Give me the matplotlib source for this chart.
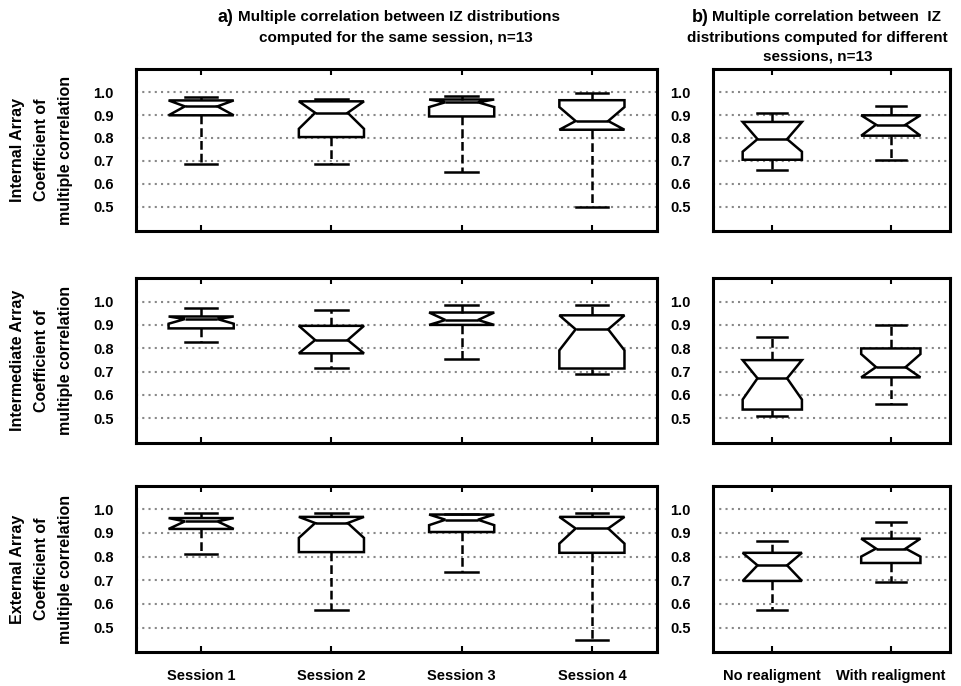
import matplotlib.pyplot as plt

plt.rcParams['font.family'] = ['Liberation Sans', 'DejaVu Sans']
plt.rcParams['font.weight'] = 'bold'

# --- categories ---
sesiones = ['Session 1', 'Session 2', 'Session 3', 'Session 4']
realineado = ['No realigment', 'With realigment']
filas = ['Internal Array', 'Intermediate Array', 'External Array']

# --- a) same session: one list per statistic, one row per array ---
a_med = [[0.938, 0.910, 0.956, 0.874],
         [0.925, 0.835, 0.921, 0.881],
         [0.949, 0.942, 0.956, 0.919]]
a_q1 = [[0.899, 0.804, 0.894, 0.836],
        [0.885, 0.778, 0.900, 0.713],
        [0.917, 0.819, 0.904, 0.816]]
a_q3 = [[0.964, 0.960, 0.968, 0.965],
        [0.936, 0.896, 0.953, 0.941],
        [0.963, 0.968, 0.978, 0.968]]
a_cilo = [[0.899, 0.840, 0.935, 0.836],
          [0.905, 0.778, 0.900, 0.791],
          [0.917, 0.879, 0.933, 0.855]]
a_cihi = [[0.964, 0.960, 0.968, 0.935],
          [0.936, 0.896, 0.953, 0.941],
          [0.963, 0.968, 0.978, 0.968]]
a_lo = [[0.688, 0.688, 0.650, 0.500],
        [0.828, 0.714, 0.753, 0.691],
        [0.812, 0.574, 0.736, 0.448]]
a_hi = [[0.978, 0.970, 0.985, 0.995],
        [0.973, 0.962, 0.986, 0.986],
        [0.985, 0.985, 0.982, 0.985]]

# --- b) different sessions ---
b_med = [[0.795, 0.858], [0.671, 0.719], [0.763, 0.834]]
b_q1 = [[0.705, 0.810], [0.537, 0.675], [0.697, 0.773]]
b_q3 = [[0.870, 0.899], [0.749, 0.799], [0.816, 0.876]]
b_cilo = [[0.740, 0.810], [0.580, 0.675], [0.697, 0.800]]
b_cihi = [[0.870, 0.899], [0.749, 0.775], [0.816, 0.876]]
b_lo = [[0.658, 0.702], [0.511, 0.560], [0.576, 0.692]]
b_hi = [[0.910, 0.940], [0.849, 0.900], [0.867, 0.945]]

yticks = [0.5, 0.6, 0.7, 0.8, 0.9, 1.0]


def stats_list(med, q1, q3, cilo, cihi, lo, hi):
    return [dict(med=m, q1=a, q3=b, cilo=c, cihi=d, whislo=l, whishi=h, fliers=[])
            for m, a, b, c, d, l, h in zip(med, q1, q3, cilo, cihi, lo, hi)]


def dibujar(ax, stats, etiquetas, con_etiquetas):
    n = len(stats)
    pos = list(range(1, n + 1))
    ax.bxp(stats, positions=pos, widths=0.5, shownotches=True, showfliers=False,
           patch_artist=True,
           boxprops=dict(facecolor='white', edgecolor='black', linewidth=1.8),
           medianprops=dict(color='black', linewidth=1.8),
           whiskerprops=dict(color='black', linewidth=1.8, linestyle=(0, (3.5, 1.6))),
           capprops=dict(color='black', linewidth=1.8))
    ax.set_xlim(0.5, n + 0.5)
    ax.set_ylim(0.395, 1.1)
    ax.set_yticks(yticks)
    ax.set_yticklabels([f'{v:.1f}' for v in yticks], fontsize=10.5, fontweight='bold')
    ax.tick_params(axis='y', length=0, pad=16)
    ax.set_xticks(pos)
    if con_etiquetas:
        ax.set_xticklabels(etiquetas, fontsize=10.5, fontweight='bold')
    else:
        ax.set_xticklabels([])
    ax.tick_params(axis='x', direction='in', top=True, length=4, width=1.5, pad=12)
    ax.yaxis.grid(True, linestyle=(0, (1, 2)), color='#888888', linewidth=1.5)
    ax.set_axisbelow(True)
    for s in ax.spines.values():
        s.set_linewidth(2.2)


fig = plt.figure(figsize=(9.62, 6.86), dpi=100)

# axes rectangles [left, bottom, width, height] per row
fila_y = [(0.6637, 0.2353), (0.3547, 0.2397), (0.0491, 0.2429)]

for i, nombre in enumerate(filas):
    y0, h = fila_y[i]
    ax_a = fig.add_axes([0.1414, y0, 0.5416, h])
    ax_b = fig.add_axes([0.7412, y0, 0.2464, h])
    dibujar(ax_a, stats_list(a_med[i], a_q1[i], a_q3[i], a_cilo[i], a_cihi[i], a_lo[i], a_hi[i]),
            sesiones, i == 2)
    dibujar(ax_b, stats_list(b_med[i], b_q1[i], b_q3[i], b_cilo[i], b_cihi[i], b_lo[i], b_hi[i]),
            realineado, i == 2)
    fig.text(0.0435, y0 + h / 2, nombre + '\nCoefficient of\nmultiple correlation',
             rotation=90, ha='center', va='center', fontsize=11.5, fontweight='bold',
             linespacing=1.75)

# panel titles
fig.text(0.2266, 0.975, 'a)', ha='left', va='center', fontsize=13, fontweight='bold')
fig.text(0.2475, 0.975, 'Multiple correlation between IZ distributions',
         ha='left', va='center', fontsize=11, fontweight='bold')
fig.text(0.411, 0.945, 'computed for the same session, n=13',
         ha='center', va='center', fontsize=11, fontweight='bold')

fig.text(0.7195, 0.975, 'b)', ha='left', va='center', fontsize=13, fontweight='bold')
fig.text(0.740, 0.975, 'Multiple correlation between  IZ',
         ha='left', va='center', fontsize=11, fontweight='bold')
fig.text(0.850, 0.945, 'distributions computed for different',
         ha='center', va='center', fontsize=11, fontweight='bold')
fig.text(0.850, 0.917, 'sessions, n=13',
         ha='center', va='center', fontsize=11, fontweight='bold')

fig.savefig('out.png', dpi=100)
